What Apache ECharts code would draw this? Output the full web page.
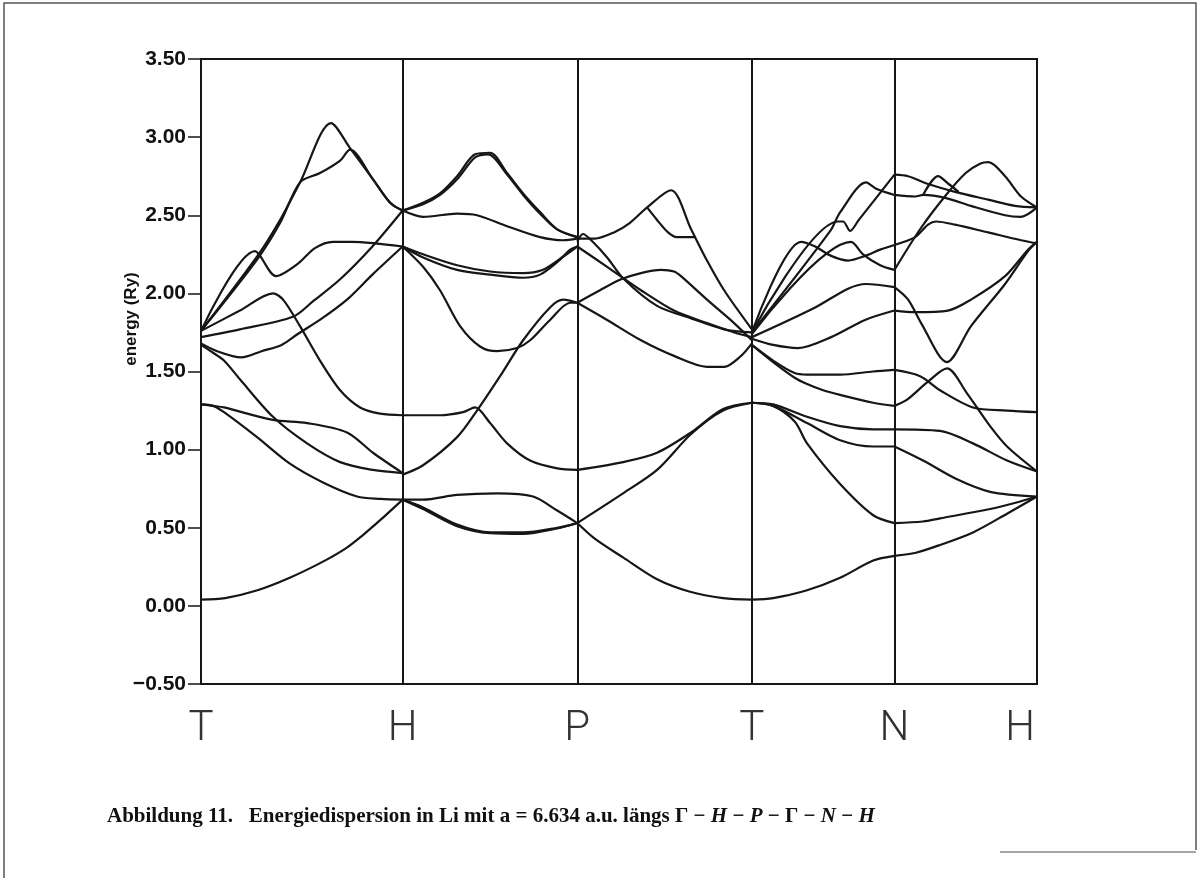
<!DOCTYPE html>
<html><head><meta charset="utf-8">
<script src="https://cdn.jsdelivr.net/npm/echarts/dist/echarts.min.js"></script>
<style>html,body{margin:0;padding:0;background:#fff}#c{width:1200px;height:881px}</style>
</head><body><div id="c"></div>
<script>
// high-symmetry points (label text as printed) and their path positions (2π/a units)
const pointLabels = ['T', 'H', 'P', 'T', 'N', 'H'];
const pointPos = [0, 1, 1.866, 2.732, 3.439, 4.146];
const yMin = -0.5, yMax = 3.5, yStep = 0.5;

// bands per segment: [fraction along segment, energy (Ry)]
const segGH = [
  [[0,0.04],[0.12,0.05],[0.28,0.10],[0.44,0.18],[0.6,0.28],[0.72,0.37],[0.8,0.45],[0.89,0.55],[1,0.68]],
  [[0,1.29],[0.06,1.28],[0.114,1.24],[0.278,1.08],[0.441,0.91],[0.605,0.79],[0.774,0.70],[0.89,0.685],[1,0.68]],
  [[0,1.29],[0.06,1.28],[0.114,1.27],[0.357,1.19],[0.526,1.17],[0.724,1.11],[0.853,0.98],[1,0.85]],
  [[0,1.67],[0.06,1.62],[0.114,1.57],[0.193,1.45],[0.357,1.21],[0.526,1.04],[0.69,0.92],[0.853,0.87],[1,0.85]],
  [[0,1.76],[0.193,1.89],[0.357,2.00],[0.407,1.96],[0.491,1.79],[0.59,1.57],[0.69,1.38],[0.789,1.27],[0.888,1.23],[1,1.22]],
  [[0,1.68],[0.08,1.63],[0.2,1.59],[0.3,1.63],[0.4,1.67],[0.48,1.74],[0.6,1.84],[0.724,1.96],[0.85,2.12],[1,2.30]],
  [[0,1.72],[0.193,1.77],[0.456,1.85],[0.556,1.95],[0.69,2.09],[0.85,2.30],[1,2.53]],
  [[0,1.76],[0.268,2.27],[0.372,2.11],[0.481,2.19],[0.565,2.29],[0.655,2.33],[0.75,2.33],[0.863,2.32],[1,2.30]],
  [[0,1.76],[0.28,2.24],[0.392,2.47],[0.491,2.71],[0.645,3.09],[0.739,2.93],[0.853,2.73],[0.938,2.58],[1,2.53]],
  [[0,1.76],[0.28,2.22],[0.392,2.45],[0.491,2.71],[0.59,2.77],[0.69,2.85],[0.739,2.92],[0.853,2.73],[0.938,2.58],[1,2.53]]
];
const segHP = [
  [[0,2.53],[0.117,2.58],[0.214,2.64],[0.312,2.75],[0.415,2.89],[0.501,2.90],[0.598,2.77],[0.69,2.64],[0.787,2.52],[0.885,2.41],[1,2.36]],
  [[0,2.53],[0.117,2.57],[0.214,2.63],[0.312,2.73],[0.415,2.87],[0.49,2.89],[0.598,2.76],[0.69,2.63],[0.787,2.51],[0.885,2.41],[1,2.36]],
  [[0,2.53],[0.117,2.49],[0.312,2.51],[0.426,2.50],[0.598,2.43],[0.787,2.36],[0.919,2.34],[1,2.35]],
  [[0,2.30],[0.117,2.23],[0.312,2.15],[0.501,2.12],[0.69,2.10],[0.787,2.12],[0.885,2.20],[0.96,2.28],[1,2.30]],
  [[0,2.30],[0.117,2.25],[0.312,2.18],[0.501,2.14],[0.69,2.13],[0.8,2.15],[0.9,2.22],[1,2.30]],
  [[0,2.30],[0.117,2.17],[0.214,2.02],[0.329,1.79],[0.443,1.66],[0.541,1.63],[0.655,1.65],[0.73,1.70],[0.844,1.83],[0.96,1.94],[1,1.94]],
  [[0,0.84],[0.117,0.90],[0.312,1.08],[0.426,1.25],[0.558,1.47],[0.69,1.70],[0.844,1.91],[0.92,1.96],[1,1.94]],
  [[0,1.22],[0.214,1.22],[0.346,1.24],[0.415,1.27],[0.501,1.17],[0.598,1.04],[0.73,0.93],[0.885,0.88],[1,0.87]],
  [[0,0.68],[0.117,0.68],[0.312,0.71],[0.541,0.72],[0.747,0.70],[0.885,0.61],[1,0.53]],
  [[0,0.68],[0.117,0.63],[0.312,0.52],[0.501,0.47],[0.69,0.47],[0.885,0.50],[1,0.53]],
  [[0,0.68],[0.117,0.62],[0.312,0.51],[0.501,0.465],[0.69,0.46],[0.885,0.495],[1,0.53]]
];
const segPG = [
  [[0,2.35],[0.1,2.35],[0.21,2.39],[0.3,2.45],[0.4,2.55],[0.537,2.66],[0.652,2.41],[0.743,2.21],[0.841,2.02],[1,1.77]],
  [[0.4,2.55],[0.457,2.47],[0.52,2.39],[0.57,2.36],[0.63,2.36],[0.675,2.36]],
  [[0,2.33],[0.033,2.38],[0.08,2.34],[0.171,2.23],[0.268,2.09],[0.457,1.92],[0.652,1.84],[0.841,1.77],[1,1.75]],
  [[0,2.30],[0.171,2.17],[0.365,2.02],[0.554,1.89],[0.743,1.81],[0.9,1.75],[1,1.72]],
  [[0,1.94],[0.13,2.02],[0.251,2.09],[0.365,2.13],[0.48,2.15],[0.554,2.14],[0.594,2.11],[0.743,1.96],[0.898,1.81],[1,1.70]],
  [[0,1.94],[0.171,1.83],[0.365,1.70],[0.554,1.60],[0.743,1.53],[0.841,1.53],[0.938,1.60],[1,1.68]],
  [[0,0.87],[0.262,0.92],[0.457,0.98],[0.652,1.11],[0.835,1.26],[1,1.30]],
  [[0,0.53],[0.262,0.72],[0.457,0.87],[0.652,1.10],[0.835,1.25],[1,1.30]],
  [[0,0.53],[0.1,0.43],[0.262,0.31],[0.457,0.17],[0.646,0.09],[0.835,0.05],[1,0.04]]
];
const segGN = [
  [[0,0.04],[0.149,0.05],[0.387,0.10],[0.619,0.18],[0.851,0.29],[1,0.32]],
  [[0,1.30],[0.149,1.28],[0.3,1.18],[0.387,1.04],[0.619,0.78],[0.851,0.58],[1,0.53]],
  [[0,1.30],[0.149,1.28],[0.387,1.17],[0.619,1.06],[0.851,1.02],[1,1.02]],
  [[0,1.30],[0.149,1.29],[0.387,1.21],[0.619,1.15],[0.851,1.13],[1,1.13]],
  [[0,1.67],[0.149,1.57],[0.3,1.49],[0.387,1.48],[0.619,1.48],[0.851,1.50],[1,1.51]],
  [[0,1.67],[0.149,1.56],[0.3,1.46],[0.387,1.42],[0.5,1.38],[0.619,1.35],[0.851,1.30],[1,1.28]],
  [[0,1.71],[0.149,1.67],[0.324,1.65],[0.556,1.72],[0.794,1.83],[1,1.89]],
  [[0,1.72],[0.444,1.91],[0.675,2.03],[0.8,2.06],[1,2.04]],
  [[0,1.74],[0.696,2.33],[0.78,2.25],[0.9,2.18],[1,2.15]],
  [[0,1.75],[0.345,2.33],[0.444,2.30],[0.556,2.24],[0.675,2.21],[0.794,2.24],[0.9,2.28],[1,2.31]],
  [[0,1.75],[0.605,2.46],[0.64,2.46],[0.689,2.40],[0.75,2.47],[1,2.76]],
  [[0,1.75],[0.55,2.40],[0.62,2.52],[0.801,2.71],[0.872,2.67],[1,2.63]]
];
const segNH = [
  [[0,2.76],[0.096,2.75],[0.236,2.70],[0.425,2.65],[0.657,2.60],[0.846,2.56],[1,2.55]],
  [[0,2.63],[0.145,2.62],[0.201,2.63],[0.362,2.61],[0.537,2.56],[0.776,2.50],[0.888,2.49],[1,2.55]],
  [[0.201,2.63],[0.306,2.75],[0.38,2.70],[0.45,2.65]],
  [[0,2.15],[0.187,2.42],[0.362,2.63],[0.5,2.77],[0.6,2.83],[0.66,2.84],[0.776,2.75],[0.888,2.62],[1,2.55]],
  [[0,2.31],[0.145,2.36],[0.236,2.44],[0.292,2.46],[0.425,2.44],[0.657,2.39],[0.888,2.34],[1,2.32]],
  [[0,2.04],[0.096,1.96],[0.187,1.81],[0.369,1.56],[0.537,1.79],[0.776,2.06],[0.937,2.27],[1,2.33]],
  [[0,1.89],[0.145,1.88],[0.376,1.89],[0.537,1.96],[0.776,2.11],[0.937,2.28],[1,2.33]],
  [[0,1.51],[0.18,1.47],[0.32,1.38],[0.551,1.27],[0.79,1.25],[1,1.24]],
  [[0,1.28],[0.089,1.32],[0.229,1.43],[0.369,1.52],[0.509,1.36],[0.671,1.15],[0.79,1.02],[1,0.86]],
  [[0,1.13],[0.32,1.12],[0.551,1.04],[0.79,0.93],[1,0.86]],
  [[0,1.02],[0.201,0.93],[0.439,0.81],[0.671,0.73],[1,0.70]],
  [[0,0.53],[0.2,0.54],[0.32,0.56],[0.671,0.62],[0.85,0.66],[1,0.70]],
  [[0,0.32],[0.15,0.34],[0.32,0.39],[0.551,0.47],[0.79,0.59],[1,0.70]]
];
const segments = [segGH, segHP, segPG, segGN, segNH];

const INK = '#161616';
const series = [];
segments.forEach((curves, si) => {
  const k0 = pointPos[si], len = pointPos[si + 1] - k0;
  curves.forEach(c => {
    series.push({
      type: 'line', silent: true, showSymbol: false, smooth: 0.3,
      lineStyle: { color: INK, width: 2.2 },
      data: c.map(([t, e]) => [k0 + t * len, e])
    });
  });
});
// vertical symmetry lines
series[0].markLine = {
  silent: true, symbol: ['none', 'none'], animation: false,
  lineStyle: { color: INK, width: 2, type: 'solid' },
  label: { show: false },
  data: pointPos.map(k => ({ xAxis: k }))
};

const chart = echarts.init(document.getElementById('c'), null, { renderer: 'canvas' });
const baseGraphic = [
  { type: 'text', x: 131, y: 319, rotation: Math.PI / 2,
    style: { text: 'energy (Ry)', fill: '#111', align: 'center', verticalAlign: 'middle',
      font: 'bold 17px "Liberation Sans", Arial, sans-serif' } },
  { type: 'text', x: 107, y: 817,
    style: {
      text: '{b|Abbildung 11.   Energiedispersion in Li mit a = 6.634 a.u. längs Γ − }{i|H}{b| − }{i|P}{b| − Γ − }{i|N}{b| − }{i|H}',
      verticalAlign: 'middle',
      rich: {
        b: { fontFamily: '"Liberation Serif", "Times New Roman", serif', fontWeight: 'bold', fontSize: 21, fill: '#111' },
        i: { fontFamily: '"Liberation Serif", "Times New Roman", serif', fontWeight: 'bold', fontStyle: 'italic', fontSize: 21, fill: '#111' }
      }
    } },
  { type: 'polyline', silent: true, shape: { points: [[4, 878], [4, 3], [1196, 3], [1196, 850]] },
    style: { stroke: '#555', lineWidth: 1.5, fill: null } },
  { type: 'line', silent: true, shape: { x1: 1000, y1: 852, x2: 1196, y2: 852 },
    style: { stroke: '#888', lineWidth: 1.5 } }
];
chart.setOption({
  animation: false,
  backgroundColor: '#fff',
  grid: { left: 201, right: 163, top: 59, bottom: 197, show: true, borderColor: INK, borderWidth: 2 },
  xAxis: {
    type: 'value', min: pointPos[0], max: pointPos[pointPos.length - 1],
    axisLine: { show: true, onZero: false, lineStyle: { color: INK, width: 2 } },
    axisTick: { show: false }, axisLabel: { show: false }, splitLine: { show: false }
  },
  yAxis: {
    type: 'value', min: yMin, max: yMax, interval: yStep,
    axisLine: { show: true, onZero: false, lineStyle: { color: INK, width: 2 } },
    axisTick: { show: true, length: 13, lineStyle: { color: INK, width: 1.5 } },
    splitLine: { show: false },
    axisLabel: {
      margin: 15, color: '#111', fontSize: 21, fontWeight: 'bold',
      fontFamily: '"Liberation Sans", Arial, sans-serif',
      formatter: v => (v < 0 ? '\u2212' : '') + Math.abs(v).toFixed(2)
    }
  },
  graphic: baseGraphic,
  series: series
});
// symmetry-point labels placed through the chart's own x scale
const labelGraphic = pointLabels.map((lab, i) => {
  const p = chart.convertToPixel({ gridIndex: 0 }, [pointPos[i], yMin]);
  const shift = i === pointLabels.length - 1 ? -17 : 0;
  return { type: 'text', x: p[0] + shift, y: p[1] + 45,
    style: { text: lab, fill: '#333', align: 'center', verticalAlign: 'middle',
      font: '300 42px Roboto, "DejaVu Sans Condensed", sans-serif' } };
});
chart.setOption({ graphic: baseGraphic.concat(labelGraphic) });
</script>
</body></html>
